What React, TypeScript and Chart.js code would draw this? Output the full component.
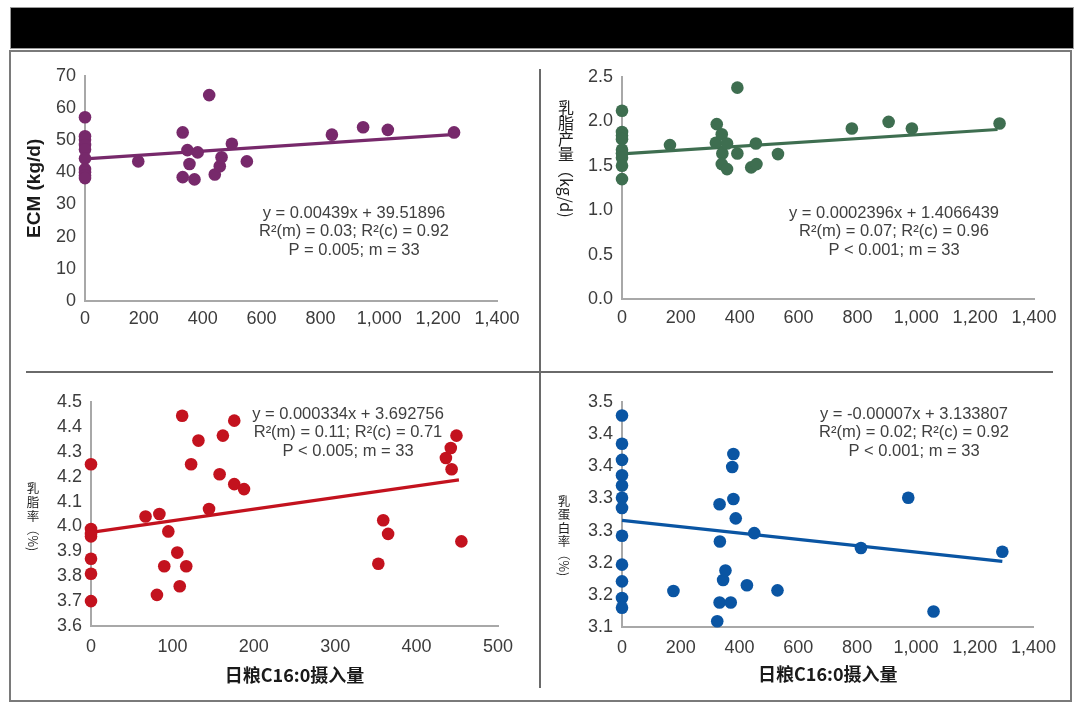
import React, { useEffect, useRef } from "react";
import { Chart, registerables } from "chart.js";

Chart.register(...registerables);

const LATIN = "'Liberation Sans', Arial, sans-serif";
const CJK = "'Noto Sans CJK SC', 'Noto Sans', sans-serif";
const TICK_COLOR = "#3c3c3c";
const AXIS_COLOR = "#a8a8a8";

// Shared x axis for daily C16:0 intake (0–1,400)
const intakeTicks1400 = [0, 200, 400, 600, 800, 1000, 1200, 1400];
const intakeLabels1400 = ["0", "200", "400", "600", "800", "1,000", "1,200", "1,400"];

// ECM (kg/d)
const ecmIntake = [0, 0, 0, 0, 0, 0, 0, 0, 0, 0, 181, 332, 332, 348, 355, 372, 383, 422, 441, 458, 464, 499, 550, 839, 945, 1029, 1254];
const ecmYield = [57.1, 51.2, 50.1, 48.5, 47.1, 44.3, 41.0, 40.0, 39.0, 38.2, 43.4, 52.4, 38.5, 46.9, 42.6, 37.8, 46.2, 64.0, 39.3, 41.9, 44.7, 48.9, 43.4, 51.7, 54.0, 53.2, 52.4];
const ecmTrendX = [0, 1260];
const ecmTrendY = [44.2, 51.8];
const ecmTicks = [0, 10, 20, 30, 40, 50, 60, 70];
const ecmTickLabels = ["0", "10", "20", "30", "40", "50", "60", "70"];
const ecmNote = ["y = 0.00439x + 39.51896", "R²(m) = 0.03; R²(c) = 0.92", "P = 0.005; m = 33"];

// 乳脂产量 (kg/d)
const fatYieldIntake = [0, 0, 0, 0, 0, 0, 0, 0, 0, 163, 322, 319, 339, 341, 339, 357, 357, 392, 392, 439, 455, 457, 530, 781, 906, 985, 1283];
const fatYield = [2.12, 1.88, 1.84, 1.8, 1.68, 1.64, 1.59, 1.5, 1.35, 1.733, 1.969, 1.759, 1.856, 1.639, 1.519, 1.751, 1.463, 2.38, 1.639, 1.482, 1.751, 1.519, 1.632, 1.92, 1.995, 1.92, 1.976];
const fatYieldTrendX = [0, 1276];
const fatYieldTrendY = [1.635, 1.909];
const fatYieldTicks = [0, 0.5, 1, 1.5, 2, 2.5];
const fatYieldTickLabels = ["0.0", "0.5", "1.0", "1.5", "2.0", "2.5"];
const fatYieldNote = ["y = 0.0002396x + 1.4066439", "R²(m) = 0.07; R²(c) = 0.96", "P < 0.001; m = 33"];

// 乳脂率 (%)
const fatPctIntake = [0, 0, 0, 0, 0, 0, 0, 67, 84, 81, 90, 95, 106, 109, 112, 117, 123, 132, 145, 158, 162, 176, 176, 188, 353, 359, 365, 436, 442, 443, 449, 455];
const fatPct = [4.25, 3.99, 3.97, 3.96, 3.87, 3.81, 3.7, 4.04, 4.05, 3.725, 3.84, 3.98, 3.895, 3.76, 4.445, 3.84, 4.25, 4.345, 4.07, 4.21, 4.365, 4.425, 4.17, 4.15, 3.85, 4.025, 3.97, 4.275, 4.315, 4.23, 4.365, 3.94];
const fatPctTrendX = [0, 452];
const fatPctTrendY = [3.976, 4.187];
const fatPctIntakeTicks = [0, 100, 200, 300, 400, 500];
const fatPctIntakeLabels = ["0", "100", "200", "300", "400", "500"];
const fatPctTicks = [3.6, 3.7, 3.8, 3.9, 4.0, 4.1, 4.2, 4.3, 4.4, 4.5];
const fatPctTickLabels = ["3.6", "3.7", "3.8", "3.9", "4.0", "4.1", "4.2", "4.3", "4.4", "4.5"];
const fatPctNote = ["y = 0.000334x + 3.692756", "R²(m) = 0.11; R²(c) = 0.71", "P < 0.005; m = 33"];

// 乳蛋白率 (%)
const proteinIntake = [0, 0, 0, 0, 0, 0, 0, 0, 0, 0, 0, 0, 175, 324, 332, 333, 332, 344, 352, 370, 379, 375, 379, 387, 425, 450, 529, 813, 974, 1060, 1294];
const proteinPct = [3.429, 3.385, 3.36, 3.336, 3.32, 3.301, 3.285, 3.242, 3.197, 3.171, 3.145, 3.13, 3.156, 3.109, 3.291, 3.233, 3.138, 3.173, 3.188, 3.138, 3.369, 3.349, 3.299, 3.269, 3.165, 3.246, 3.157, 3.223, 3.301, 3.124, 3.217];
const proteinTrendX = [0, 1294];
const proteinTrendY = [3.266, 3.202];
const proteinTicks = [3.1, 3.15, 3.2, 3.25, 3.3, 3.35, 3.4, 3.45];
const proteinTickLabels = ["3.1", "3.2", "3.2", "3.3", "3.3", "3.4", "3.4", "3.5"];
const proteinNote = ["y = -0.00007x + 3.133807", "R²(m) = 0.02; R²(c) = 0.92", "P < 0.001; m = 33"];

const intakeTitle = "日粮C16:0摄入量";

type SideTitleSpec = { upright: string; sideways: string; cx: number; top: number; size: number; step: number };

type Panel = {
  box: { left: number; top: number; width: number; height: number };
  plot: { left: number; right: number; top: number; bottom: number };
  color: string;
  xs: number[];
  ys: number[];
  trendX: number[];
  trendY: number[];
  xTicks: number[];
  xLabels: string[];
  yTicks: number[];
  yLabels: string[];
  note: string[];
  noteAt: { x: number; y: number };
  xPad: number;
  yTitle?: { text: string; padTop: number };
  xTitle?: { text: string; padBottom: number };
  sideTitle?: SideTitleSpec;
};

const panels: Panel[] = [
  {
    box: { left: 12, top: 56, width: 523, height: 304 },
    plot: { left: 85, right: 497, top: 74, bottom: 301 },
    color: "#77296b",
    xs: ecmIntake, ys: ecmYield, trendX: ecmTrendX, trendY: ecmTrendY,
    xTicks: intakeTicks1400, xLabels: intakeLabels1400,
    yTicks: ecmTicks, yLabels: ecmTickLabels,
    note: ecmNote, noteAt: { x: 354, y: 213 }, xPad: 7,
    yTitle: { text: "ECM (kg/d)", padTop: 11 },
  },
  {
    box: { left: 545, top: 56, width: 521, height: 304 },
    plot: { left: 622, right: 1034, top: 77, bottom: 299 },
    color: "#3e6e50",
    xs: fatYieldIntake, ys: fatYield, trendX: fatYieldTrendX, trendY: fatYieldTrendY,
    xTicks: intakeTicks1400, xLabels: intakeLabels1400,
    yTicks: fatYieldTicks, yLabels: fatYieldTickLabels,
    note: fatYieldNote, noteAt: { x: 894, y: 213 }, xPad: 8,
    sideTitle: { upright: "乳脂产量", sideways: "（kg/d)", cx: 566, top: 100, size: 16, step: 15.5 },
  },
  {
    box: { left: 12, top: 378, width: 523, height: 318 },
    plot: { left: 91, right: 498, top: 402, bottom: 626 },
    color: "#c3121e",
    xs: fatPctIntake, ys: fatPct, trendX: fatPctTrendX, trendY: fatPctTrendY,
    xTicks: fatPctIntakeTicks, xLabels: fatPctIntakeLabels,
    yTicks: fatPctTicks, yLabels: fatPctTickLabels,
    note: fatPctNote, noteAt: { x: 348, y: 414 }, xPad: 10,
    xTitle: { text: intakeTitle, padBottom: 10 },
    sideTitle: { upright: "乳脂率", sideways: "（%)", cx: 33, top: 481, size: 12.5, step: 14 },
  },
  {
    box: { left: 545, top: 378, width: 521, height: 318 },
    plot: { left: 622, right: 1034, top: 402, bottom: 627 },
    color: "#0a55a3",
    xs: proteinIntake, ys: proteinPct, trendX: proteinTrendX, trendY: proteinTrendY,
    xTicks: intakeTicks1400, xLabels: intakeLabels1400,
    yTicks: proteinTicks, yLabels: proteinTickLabels,
    note: proteinNote, noteAt: { x: 914, y: 414 }, xPad: 10,
    xTitle: { text: intakeTitle, padBottom: 11 },
    sideTitle: { upright: "乳蛋白率", sideways: "（%)", cx: 564, top: 494, size: 12.5, step: 13.5 },
  },
];

function makeChart(canvas: HTMLCanvasElement, p: Panel): Chart {
  const { box, plot } = p;
  const yWidth = plot.left - box.left;
  const xHeight = box.top + box.height - plot.bottom;
  const padTop = plot.top - box.top;
  const padRight = box.left + box.width - plot.right;
  const tickFont = { family: LATIN, size: 18 };

  // Regression equation block, drawn as three centred lines
  const notePlugin = {
    id: "regressionNote",
    afterDatasetsDraw(chart: Chart) {
      const ctx = chart.ctx;
      ctx.save();
      ctx.font = `16.5px ${LATIN}`;
      ctx.fillStyle = "#404040";
      ctx.textAlign = "center";
      ctx.textBaseline = "middle";
      p.note.forEach((line, i) => {
        ctx.fillText(line, p.noteAt.x - box.left, p.noteAt.y - box.top + i * 18.5);
      });
      ctx.restore();
    },
  };

  // Vertical Chinese axis caption: characters stacked upright, unit turned sideways
  const sideTitlePlugin = {
    id: "sideTitle",
    afterDraw(chart: Chart) {
      const t = p.sideTitle;
      if (!t) return;
      const ctx = chart.ctx;
      const cx = t.cx - box.left;
      let y = t.top - box.top;
      ctx.save();
      ctx.font = `${t.size}px ${CJK}`;
      ctx.fillStyle = "#1f1f1f";
      ctx.textAlign = "center";
      ctx.textBaseline = "middle";
      for (const ch of Array.from(t.upright)) {
        ctx.fillText(ch, cx, y + t.step / 2);
        y += t.step;
      }
      ctx.translate(cx, y);
      ctx.rotate(Math.PI / 2);
      ctx.textAlign = "left";
      ctx.fillText(t.sideways, 0, 0);
      ctx.restore();
    },
  };

  return new Chart(canvas, {
    type: "scatter",
    data: {
      datasets: [
        {
          type: "scatter",
          data: p.xs.map((x, i) => ({ x, y: p.ys[i] })),
          backgroundColor: p.color,
          borderColor: p.color,
          borderWidth: 0,
          pointRadius: 6.3,
          pointHoverRadius: 6.3,
          clip: false,
          order: 1,
        },
        {
          type: "line",
          data: p.trendX.map((x, i) => ({ x, y: p.trendY[i] })),
          borderColor: p.color,
          borderWidth: 3.2,
          pointRadius: 0,
          fill: false,
          clip: false,
          order: 2,
        },
      ],
    } as any,
    options: {
      responsive: false,
      animation: false,
      events: [],
      layout: { padding: { left: 0, top: padTop, right: padRight, bottom: 0 } },
      plugins: { legend: { display: false }, tooltip: { enabled: false } },
      scales: {
        x: {
          type: "linear",
          min: p.xTicks[0],
          max: p.xTicks[p.xTicks.length - 1],
          afterBuildTicks: (s: any) => {
            s.ticks = p.xTicks.map((v) => ({ value: v }));
          },
          afterFit: (s: any) => {
            s.height = xHeight;
          },
          grid: { display: false, drawTicks: false },
          border: { display: true, color: AXIS_COLOR, width: 2 },
          ticks: {
            autoSkip: false,
            maxRotation: 0,
            padding: p.xPad,
            color: TICK_COLOR,
            font: tickFont,
            callback: (_v: any, i: number) => p.xLabels[i],
          },
          title: p.xTitle
            ? {
                display: true,
                text: p.xTitle.text,
                color: "#1a1a1a",
                font: { family: CJK, size: 18, weight: "bold" },
                padding: { top: 0, bottom: p.xTitle.padBottom },
              }
            : { display: false },
        },
        y: {
          type: "linear",
          min: p.yTicks[0],
          max: p.yTicks[p.yTicks.length - 1],
          afterBuildTicks: (s: any) => {
            s.ticks = p.yTicks.map((v) => ({ value: v }));
          },
          afterFit: (s: any) => {
            s.width = yWidth;
          },
          grid: { display: false, drawTicks: false },
          border: { display: true, color: AXIS_COLOR, width: 2 },
          ticks: {
            autoSkip: false,
            padding: 9,
            color: TICK_COLOR,
            font: tickFont,
            callback: (_v: any, i: number) => p.yLabels[i],
          },
          title: p.yTitle
            ? {
                display: true,
                text: p.yTitle.text,
                color: "#1a1a1a",
                font: { family: LATIN, size: 19, weight: "bold" },
                padding: { top: p.yTitle.padTop, bottom: 0 },
              }
            : { display: false },
        },
      },
    } as any,
    plugins: [notePlugin, sideTitlePlugin],
  });
}

function PanelChart({ panel }: { panel: Panel }) {
  const ref = useRef<HTMLCanvasElement | null>(null);
  useEffect(() => {
    if (!ref.current) return;
    const chart = makeChart(ref.current, panel);
    return () => chart.destroy();
  }, [panel]);
  const { box } = panel;
  return (
    <canvas
      ref={ref}
      width={box.width}
      height={box.height}
      style={{ position: "absolute", left: box.left, top: box.top, width: box.width, height: box.height }}
    />
  );
}

export default function App() {
  const line = (s: React.CSSProperties) => <div style={{ position: "absolute", background: "#6a6a6a", ...s }} />;
  return (
    <div style={{ position: "absolute", left: 0, top: 0, width: 1080, height: 712, background: "#ffffff", overflow: "hidden" }}>
      <div style={{ position: "absolute", left: 10, top: 7, width: 1064, height: 42, background: "#000", boxSizing: "border-box", border: "1px solid #9a9a9a" }} />
      <div style={{ position: "absolute", left: 9, top: 50, width: 1063, height: 652, boxSizing: "border-box", border: "2px solid #7a7a7a" }} />
      {line({ left: 539, top: 69, width: 2, height: 619 })}
      {line({ left: 26, top: 371, width: 1027, height: 2 })}
      {panels.map((p, i) => (
        <PanelChart key={i} panel={p} />
      ))}
    </div>
  );
}
